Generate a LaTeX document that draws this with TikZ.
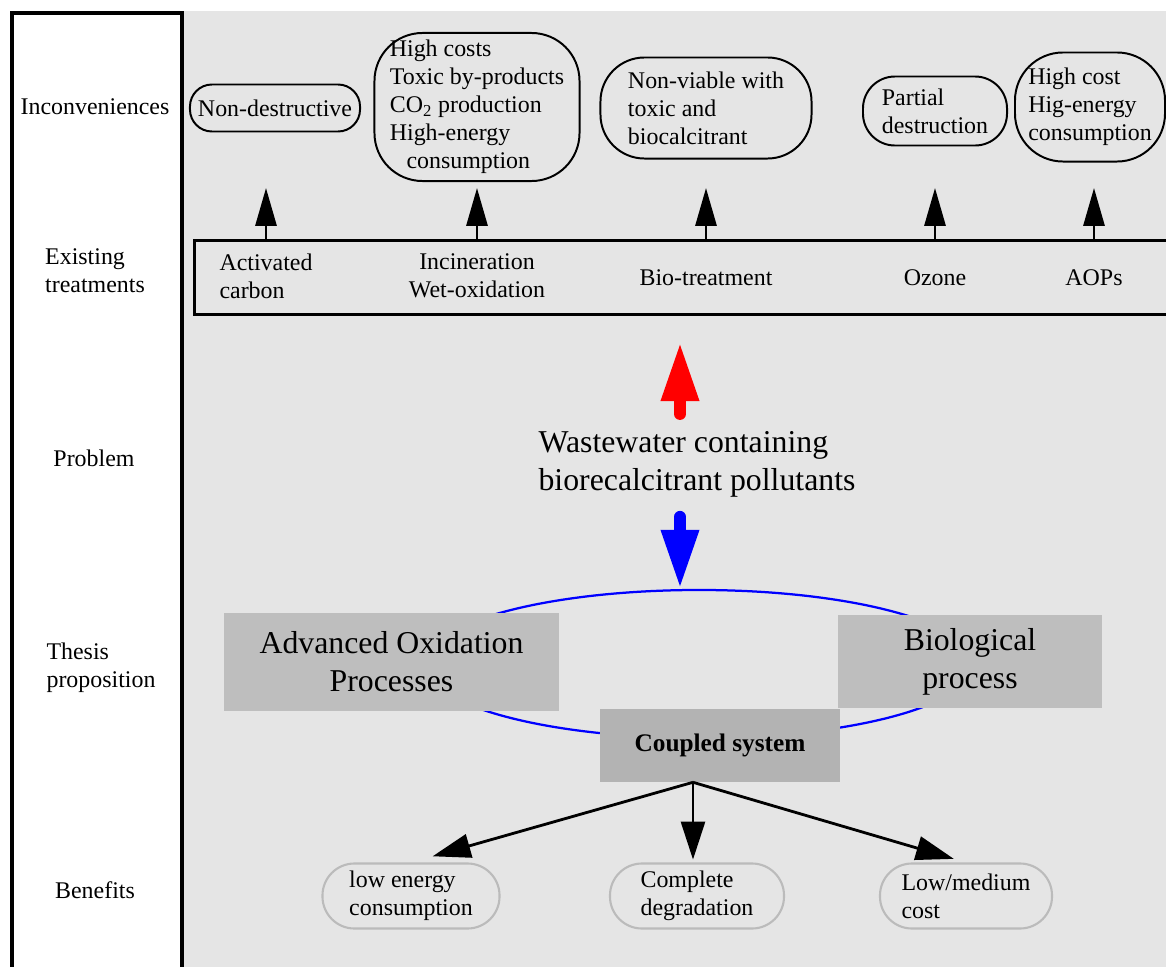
\documentclass[tikz,border=0pt]{standalone}
\usepackage{fontspec}
\setmainfont{Liberation Serif}
\usepackage{xcolor}
\definecolor{mgray}{HTML}{E5E5E5}
\definecolor{mbox}{HTML}{BEBEBE}
\definecolor{mcoup}{HTML}{B3B3B3}
\definecolor{mring}{HTML}{BBBBBB}
\usepackage{tikz}
\usetikzlibrary{arrows.meta,shapes.geometric}

\tikzset{
  txt/.style={font=\fontsize{17}{20}\selectfont, inner sep=0pt},
  rowlab/.style={txt},
  treat/.style={txt, align=center},
  drawback/.style={txt, draw, line width=1.4pt},
  benefit/.style={txt, draw=mring, line width=1.5pt, rounded corners=0.8cm,
    minimum height=1.625cm, align=left},
  proc/.style={fill=mbox, inner sep=0pt, align=center,
    font=\fontsize{22.6}{27}\selectfont},
  uparr/.style={-{Triangle[length=27pt,width=15pt]}, line width=2pt},
  fatarr/.style={-{Triangle[length=42pt,width=25pt]}, line width=8.5pt, line cap=round},
  outarr/.style={-{Triangle[length=27pt,width=17pt]}, line width=2pt}
}

\begin{document}
\begin{tikzpicture}[x=0.025cm, y=-0.025cm]
  \useasboundingbox (0,0) rectangle (1166,967);
  \fill[mgray] (183,11) rectangle (1166,967);
  \draw[line width=2.2pt] (12,967) -- (12,13) -- (182,13) -- (182,967);

  \node[rowlab] (r1) at (95,107) {Inconveniences};
  \node[rowlab, align=left] (r2) at (95,271) {Existing\\treatments};
  \node[rowlab] (r3) at (94,458) {Problem};
  \node[rowlab, align=left] (r4) at (101,668) {Thesis\\proposition};
  \node[rowlab] (r5) at (95,890) {Benefits};

  \node[drawback, minimum width=4.25cm, minimum height=1.175cm, rounded corners=0.55cm] (nd) at (275,108) {Non-destructive};
  \node[drawback, align=left, minimum width=5.125cm, minimum height=3.7cm, rounded corners=1.2cm] (hc) at (477,107)
    {High costs\\Toxic by-products\\CO\textsubscript{2} production\\High-energy\\\hspace{0.7em}consumption};
  \node[drawback, align=left, minimum width=5.275cm, minimum height=2.525cm, rounded corners=1.1cm] (nv) at (706,108)
    {Non-viable with\\toxic and\\biocalcitrant};
  \node[drawback, align=left, minimum width=3.6cm, minimum height=1.725cm, rounded corners=0.8cm] (pd) at (935,111)
    {Partial\\destruction};
  \node[drawback, align=left, minimum width=3.75cm, minimum height=2.725cm, rounded corners=1.2cm] (hce) at (1090,107)
    {High cost\\Hig-energy\\consumption};

  \node[draw, line width=2pt, minimum width=25.2cm, minimum height=1.85cm, anchor=north west] (tbox) at (193,239) {};
  \node[treat, align=left] (ac) at (266,276) {Activated\\carbon};
  \node[treat] (inc) at (477,276) {Incineration\\Wet-oxidation};
  \node[treat] (bio) at (706,278) {Bio-treatment};
  \node[treat] (oz) at (935,278) {Ozone};
  \node[treat] (aop) at (1094,278) {AOPs};

  \coordinate (tips) at (0,188);
  \foreach \t in {ac,inc,bio,oz,aop}
    \draw[uparr] (\t |- tbox.north) -- (\t |- tips);

  \node[txt, align=left, font=\fontsize{22.6}{27}\selectfont] (ww) at (697,464)
    {Wastewater containing\\biorecalcitrant pollutants};
  \node[ellipse, draw=blue, line width=1.6pt, minimum width=13.75cm, minimum height=3.7cm, inner sep=0pt] (loop) at (699,664) {};

  \coordinate (axis) at (680,0);
  \coordinate (rtip) at (680,342);
  \draw[fatarr, red, shorten <=12pt] (ww.north -| axis) -- (rtip);
  \draw[fatarr, blue, shorten <=14pt] (ww.south -| axis) -- (loop.north -| axis);

  \node[proc, minimum width=8.375cm, minimum height=2.45cm] (aopbox) at (391.5,662) {Advanced Oxidation\\Processes};
  \node[proc, minimum width=6.6cm, minimum height=2.325cm] (biobox) at (970,661.5) {Biological\\process};
  \node[proc, fill=mcoup, minimum width=6cm, minimum height=1.825cm, font=\fontsize{18}{21}\selectfont\bfseries] (coupled) at (720,745.5) {Coupled system};

  \node[benefit, minimum width=4.425cm] (low) at (411,896) {low energy\\consumption};
  \node[benefit, minimum width=4.35cm] (deg) at (697,896) {Complete\\degradation};
  \node[benefit, minimum width=4.3cm] (cost) at (966,896) {Low/medium\\cost};

  \coordinate (fork) at ([xshift=-0.675cm]coupled.south);
  \draw[outarr, shorten >=16pt] (fork) -- (low.north);
  \draw[outarr, shorten >=2pt] (fork) -- (fork |- deg.north);
  \draw[outarr, shorten >=9pt] (fork) -- (cost.north);
\end{tikzpicture}
\end{document}
